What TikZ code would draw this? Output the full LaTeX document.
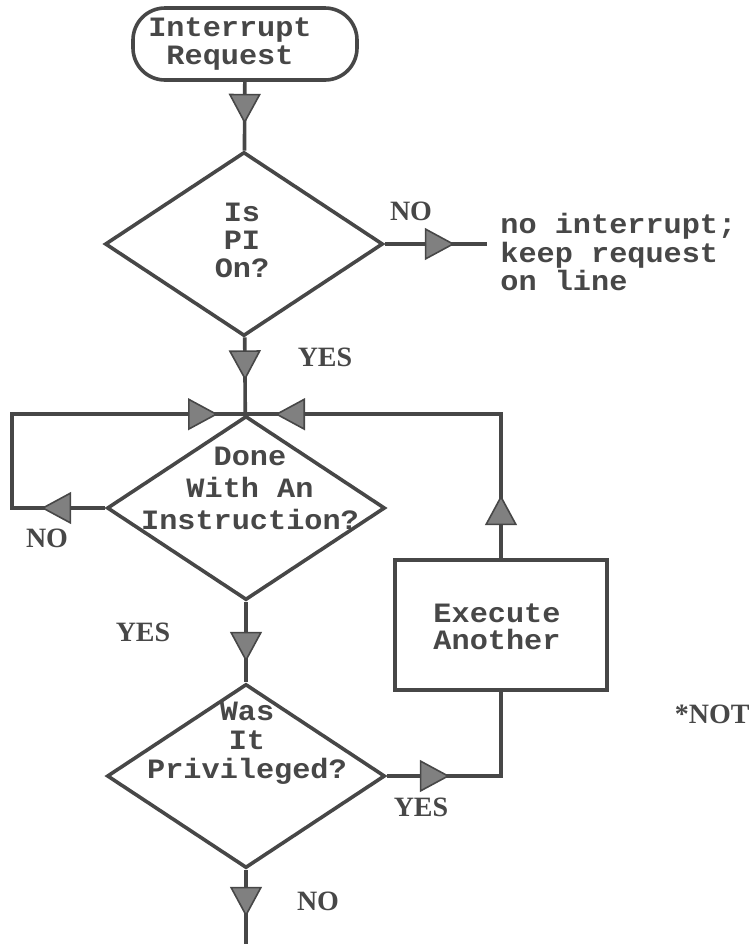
\documentclass[tikz,border=0pt]{standalone}
\usepackage{fontspec}
\setmainfont{Liberation Serif}
\setmonofont[FakeStretch=1.08]{Liberation Mono}
\usetikzlibrary{shapes,arrows.meta,decorations.markings,calc}
\definecolor{ink}{gray}{0.28}
\definecolor{tipgray}{gray}{0.5}
\tikzset{flow/.style={draw=ink, line width=1.8pt},
box/.style={draw=ink, line width=1.8pt, fill=white, inner sep=0pt},
term/.style={box, rectangle, rounded corners=16pt, minimum width=112pt, minimum height=36pt},
decision/.style={box, diamond, minimum width=139pt, minimum height=92pt},
process/.style={box, rectangle, minimum width=106pt, minimum height=65pt},
txt/.style={font=\ttfamily\bfseries\fontsize{14}{14}\selectfont, text=ink, align=center, inner sep=0pt},
tag/.style={font=\bfseries\fontsize{14}{14}\selectfont, text=ink, inner sep=0pt},
tipat/.style={postaction={decorate, decoration={markings,
  mark=at position #1 with {\arrow{Triangle[length=15pt,width=16pt,line width=0.8pt,fill=tipgray]}}}}}}

\begin{document}
\begin{tikzpicture}[x=0.5pt, y=-0.5pt]
  \useasboundingbox (0,0) rectangle (752,944);
  \node (req) [term] at (245,44) {};
  \node (pi) [decision] at (244,244) {};
  \node (done) [decision] at (246,508) {};
  \node (priv) [decision] at (246,776) {};
  \node (exec) [process] at (501,625) {};
  \coordinate (off) at (487,244);
  \coordinate (loop) at (12,508);
  \coordinate (out) at (246,944);

  \node (reqtxt) [txt] at (230,44) {Interrupt\\Request};
  \node (pitxt) [txt] at (242,240) {Is\\PI\\On?};
  \node (donetxt) [txt, font=\ttfamily\bfseries\fontsize{14}{16}\selectfont] at (250,488) {Done\\With An\\Instruction?};
  \node (privtxt) [txt, font=\ttfamily\bfseries\fontsize{14}{14.5}\selectfont] at (247,743) {Was\\It\\Privileged?};
  \node (exectxt) [txt, font=\ttfamily\bfseries\fontsize{14}{13.5}\selectfont] at (497,627) {Execute\\Another};
  \node (offtxt) [txt, align=left, anchor=west, font=\ttfamily\bfseries\fontsize{14}{12.5}\selectfont] at (500,252) {no interrupt;\\keep request\\on line};

  \draw [flow, tipat=21pt] (req) -- (pi);
  \draw [flow, tipat=35pt] (pi) -- (off);
  \draw [flow, tipat=21.5pt] (pi) -- (done);
  \draw [flow, tipat=32pt, tipat=196.5pt] (done.west) -- (loop) |- (done.north);
  \draw [flow, tipat=31.5pt, tipat=185pt] (exec) |- (done.north);
  \draw [flow, tipat=30pt] (done) -- (priv);
  \draw [flow, tipat=31.5pt] (priv.east) -| (exec);
  \draw [flow, tipat=23.5pt] (priv) -- (out);

  \node (no1) [tag] at (411,211) {NO};
  \node (yes1) [tag] at (325,357) {YES};
  \node (no2) [tag] at (47,538) {NO};
  \node (yes2) [tag] at (143,632) {YES};
  \node (yes3) [tag] at (421,807) {YES};
  \node (no3) [tag] at (318,901) {NO};
  \node (note) [tag, anchor=east] at (750,714) {*NOT};
\end{tikzpicture}
\end{document}
